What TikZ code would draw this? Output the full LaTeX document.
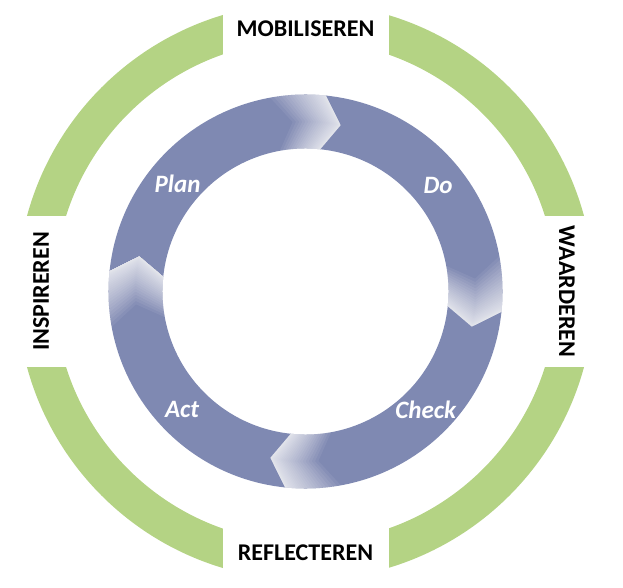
\documentclass[tikz,border=0pt]{standalone}
\usepackage{fontspec}
\setmainfont{Carlito}
\usepackage{tikz}
\definecolor{ringgreen}{HTML}{B4D384}
\definecolor{ringblue}{HTML}{7F89B2}

\begin{document}
\begin{tikzpicture}[x=1pt, y=1pt,
  phase/.style={fill=white, inner sep=0pt, font=\fontsize{24}{24}\selectfont\bfseries},
  cyclelabel/.style={text=white, font=\fontsize{25}{25}\selectfont\bfseries\itshape}]
\useasboundingbox (0,0) rectangle (623,587);
\coordinate (c) at (305.5,295.5);
% outer ring, cut open by the four labels
\fill[ringgreen, even odd rule] (c) circle[radius=288.5] (c) circle[radius=251];
\node[phase, minimum width=166pt, minimum height=60pt] (mob) at (305.5,558.5) {MOBILISEREN};
\node[phase, minimum width=166pt, minimum height=60pt] (ref) at (305.5,34.5) {REFLECTEREN};
\node[phase, rotate=90, minimum width=151pt, minimum height=70pt] (ins) at (41,295.5) {INSPIREREN};
\node[phase, rotate=-90, minimum width=151pt, minimum height=70pt] (waa) at (567,295.5) {WAARDEREN};
% inner cycle
\begin{scope}[shift={(c)}]
\foreach \t in {78,-12,-102,168} {
  \fill[ringblue] ({\t+96}:197) arc[start angle=\t+96, end angle=\t+6, radius=197] -- (\t:170)
    -- ({\t+6}:143) arc[start angle=\t+6, end angle=\t+96, radius=143] -- ({\t+90}:170) -- cycle;
  \foreach \k in {1,...,28} {
    \pgfmathsetmacro{\d}{\k*\k/48}
    \fill[white, fill opacity=0.065] ({\t+6+\d}:197) arc[start angle=\t+6+\d, end angle=\t+6, radius=197] -- (\t:170)
      -- ({\t+6}:143) arc[start angle=\t+6, end angle=\t+6+\d, radius=143] -- ({\t+\d}:170) -- cycle;
  }
}
\node[cyclelabel] (plan) at (140:167) {Plan};
\node[cyclelabel] (do) at (38.7:170) {Do};
\node[cyclelabel] (check) at (-44.6:169) {Check};
\node[cyclelabel] (act) at (223.8:171) {Act};
\end{scope}
\end{tikzpicture}
\end{document}
